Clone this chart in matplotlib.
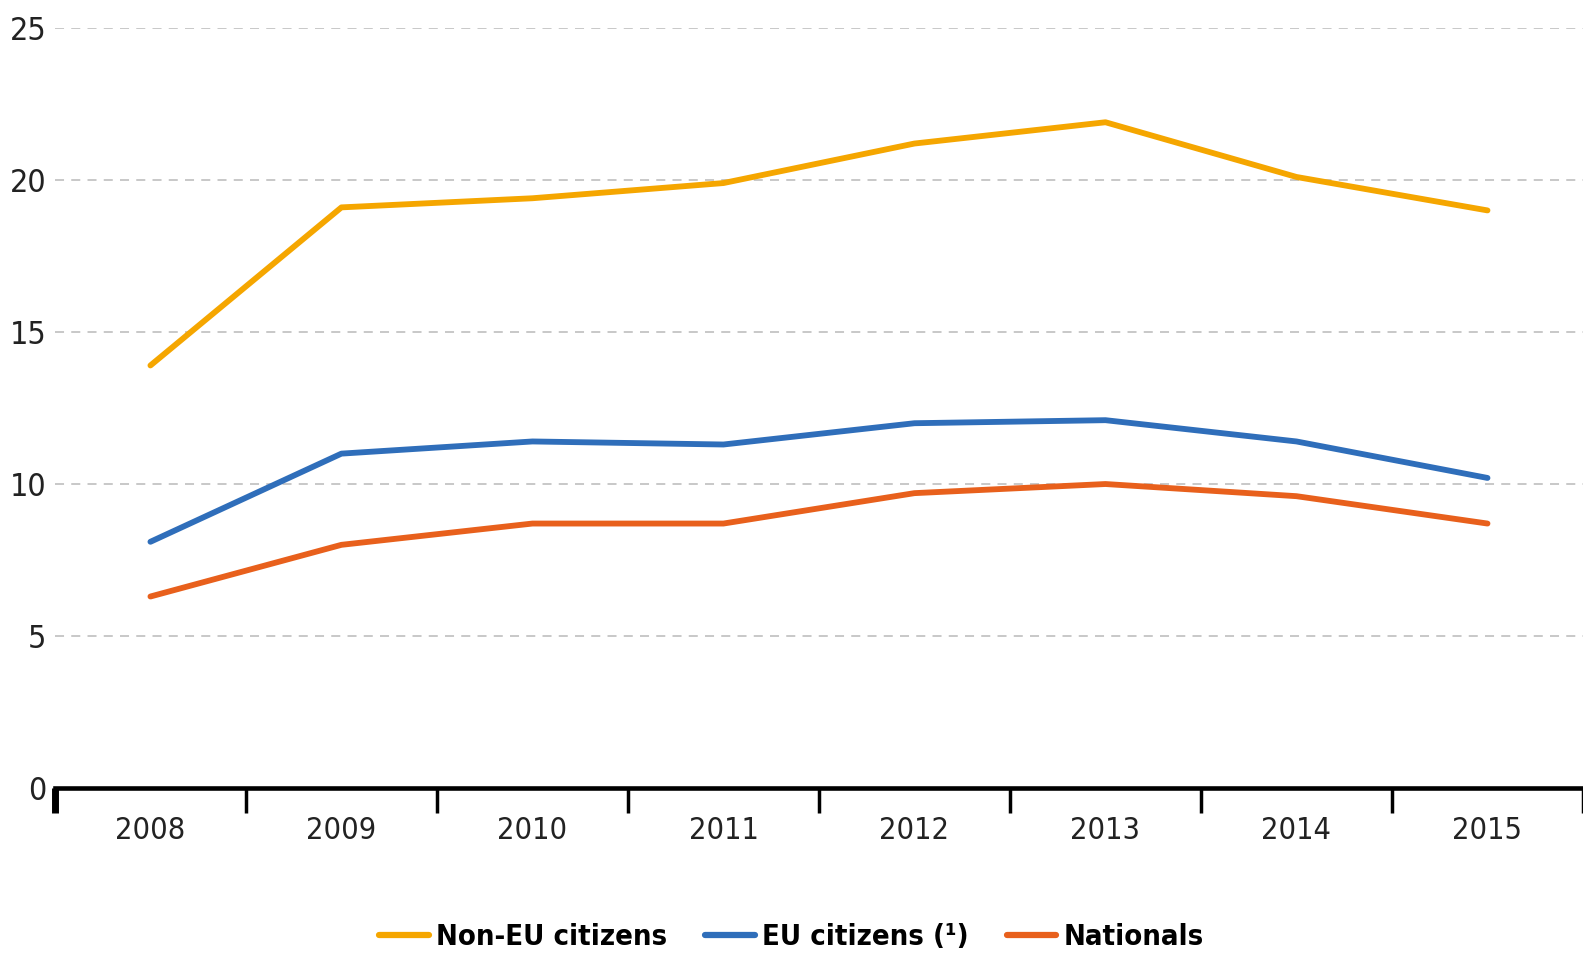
import matplotlib.pyplot as plt
import numpy as np

years = ['2008', '2009', '2010', '2011', '2012', '2013', '2014', '2015']
non_eu = [13.9, 19.1, 19.4, 19.9, 21.2, 21.9, 20.1, 19.0]
eu = [8.1, 11.0, 11.4, 11.3, 12.0, 12.1, 11.4, 10.2]
nationals = [6.3, 8.0, 8.7, 8.7, 9.7, 10.0, 9.6, 8.7]

series_names = ['Non-EU citizens', 'EU citizens (¹)', 'Nationals']
colors = ['#F5A600', '#2F6EBA', '#E8601C']

plt.rcParams['font.family'] = ['DejaVu Sans']
plt.rcParams['font.stretch'] = 'condensed'

fig = plt.figure(figsize=(15.83, 9.56), dpi=100)
ax = fig.add_axes([0.0347, 0.1757, 0.9653, 0.795])

x = np.arange(len(years))
for vals, name, c in zip([non_eu, eu, nationals], series_names, colors):
    ax.plot(x, vals, color=c, lw=4.2, label=name, solid_capstyle='round')

ax.set_xlim(-0.5, len(years) - 0.5)
ax.set_ylim(0, 25)
ax.set_yticks([0, 5, 10, 15, 20, 25])
ax.yaxis.grid(True, color='#C4C4C4', lw=1.3, linestyle=(0, (5, 4)))
ax.set_axisbelow(True)
ax.tick_params(axis='y', length=0, pad=6, labelsize=23, labelcolor='#222222')

# boundary ticks (major) and centred labels (minor)
ax.set_xticks(np.arange(-0.5, len(years) - 0.4, 1.0))
ax.set_xticklabels([])
ax.tick_params(axis='x', which='major', length=18, width=2.5, color='black', direction='out')
ax.set_xticks(x, minor=True)
ax.set_xticklabels(years, minor=True)
ax.tick_params(axis='x', which='minor', length=0, pad=20, labelsize=22, labelcolor='#222222')
ax.get_xticklines()[0].set_markeredgewidth(5)

for s in ['top', 'right', 'left']:
    ax.spines[s].set_visible(False)
ax.spines['bottom'].set_linewidth(3.3)
ax.spines['bottom'].set_color('black')

leg = fig.legend(loc='center', bbox_to_anchor=(0.5, 0.02), ncol=3, frameon=False,
                 prop={'size': 21, 'weight': 'bold'}, handlelength=1.7, handletextpad=0.25,
                 columnspacing=1.3)
for h in leg.get_lines():
    h.set_linewidth(4.5)

fig.savefig('out.png', dpi=100)
